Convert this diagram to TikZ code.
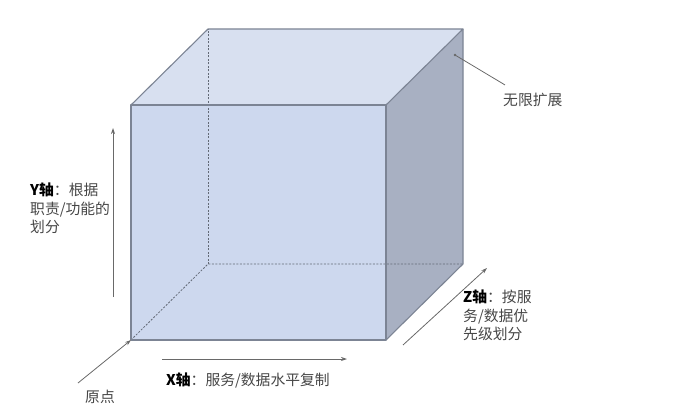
\documentclass[tikz,border=0pt]{standalone}
\usepackage{fontspec}
\newfontfamily\cjk{Noto Sans CJK SC}
\usetikzlibrary{positioning,arrows.meta}
\definecolor{frontface}{RGB}{205,216,238}
\definecolor{topface}{RGB}{216,224,240}
\definecolor{sideface}{RGB}{168,176,194}
\definecolor{edgegray}{RGB}{124,132,148}
\definecolor{axisgray}{RGB}{105,105,105}
\definecolor{textgray}{RGB}{70,70,70}

\begin{document}
\begin{tikzpicture}[
x = 1pt, y = -1pt,
edge/.style = {draw=edgegray, line width=1.1pt, line join=round},
hidden/.style = {draw=edgegray!80!black, line width=0.8pt, dash pattern=on 2pt off 1.5pt},
axis/.style = {-{Stealth[length=6pt,width=4pt]}, draw=axisgray, line width=0.8pt},
pointer/.style = {draw=axisgray, line width=0.8pt},
lbl/.style = {inner sep=0pt, text=textgray, align=left,
  font=\cjk\fontsize{14.8}{18.5}\selectfont}]

\useasboundingbox (0,0) rectangle (682,417);

% cube corners
\coordinate (f-bl) at (131,340);
\coordinate (f-br) at (386,340);
\coordinate (f-tr) at (386,105);
\coordinate (f-tl) at (131,105);
\coordinate (b-bl) at (208,264);
\coordinate (b-br) at (463,264);
\coordinate (b-tr) at (463,29);
\coordinate (b-tl) at (208,29);

\fill[frontface] (f-bl) rectangle (f-tr);
\fill[topface] (f-tl) -- (b-tl) -- (b-tr) -- (f-tr) -- cycle;
\fill[sideface] (f-tr) -- (b-tr) -- (b-br) -- (f-br) -- cycle;

\draw[hidden] (f-bl) -- (b-bl) -- (b-br);
\draw[hidden] (b-bl) -- (b-tl);

\draw[edge] (f-bl) rectangle (f-tr);
\draw[edge] (f-tl) -- (b-tl) -- (b-tr) -- (f-tr);
\draw[edge] (b-tr) -- (b-br) -- (f-br);

% axes
\coordinate (y0) at (113,297);
\coordinate (y1) at (113,128);
\coordinate (x0) at (162,359);
\coordinate (x1) at (347,359);
\coordinate (z0) at (403,345);
\coordinate (z1) at (487,268);
\draw[axis] (y0) -- (y1);
\draw[axis] (x0) -- (x1);
\draw[axis] (z0) -- (z1);

% labels
\node[lbl, anchor=north west] (ylbl) at (30,183)
  {{\bfseries\color{black}Y轴}：根据\\职责/功能的\\划分};
\node[lbl, anchor=west] (xlbl) at (166,380)
  {{\bfseries\color{black}X轴}：服务/数据水平复制};
\node[lbl, anchor=north west] (zlbl) at (463,290)
  {{\bfseries\color{black}Z轴}：按服\\务/数据优\\先级划分};
\node[lbl] (origin) at (100,397) {原点};
\node[lbl, anchor=west] (grow) at (503,100) {无限扩展};

% pointers
\coordinate (o-tail) at (78,383);
\draw[axis] (o-tail) -- (f-bl);
\coordinate (g-dot) at (455,55);
\fill[axisgray] (g-dot) circle (1.3pt);
\draw[pointer] (g-dot) -- ([shift={(2,-8)}]grow.north west);
\end{tikzpicture}
\end{document}
